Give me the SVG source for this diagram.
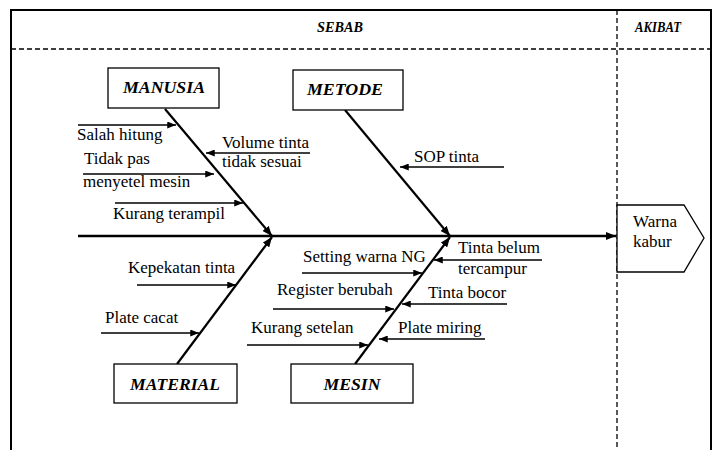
<svg xmlns="http://www.w3.org/2000/svg" width="717" height="450" viewBox="0 0 717 450">
<defs>
<marker id="ah" viewBox="0 0 10 8" refX="10" refY="4" markerWidth="10" markerHeight="8" markerUnits="userSpaceOnUse" orient="auto"><path d="M0,0 L10,4 L0,8 z" fill="#000"/></marker>
<marker id="ahs" viewBox="0 0 10 8" refX="10" refY="4" markerWidth="9" markerHeight="7" markerUnits="userSpaceOnUse" orient="auto"><path d="M0,0 L10,4 L0,8 z" fill="#000"/></marker>
<style>
.frame{fill:none;stroke:#000;stroke-width:2}
.dash{fill:none;stroke:#000;stroke-width:1.3;stroke-dasharray:5 3}
.box{fill:#fff;stroke:#000;stroke-width:1.3}
.hd{font-family:"Liberation Serif","Times New Roman",serif;font-weight:bold;font-style:italic;font-size:17.5px;fill:#000;text-anchor:middle}
.top{font-family:"Liberation Serif","Times New Roman",serif;font-weight:bold;font-style:italic;font-size:14px;fill:#000;text-anchor:middle}
.lb{font-family:"Liberation Serif","Times New Roman",serif;font-size:17px;fill:#000}
.bone{stroke:#000;stroke-width:2.2;fill:none;marker-end:url(#ah)}
.spine{stroke:#000;stroke-width:2.6;fill:none;marker-end:url(#ah)}
.sub{stroke:#000;stroke-width:1.6;fill:none;marker-end:url(#ahs)}
</style>
</defs>
<rect width="717" height="450" fill="#fff"/>
<g id="frame">
<path class="frame" d="M11,450 V10 H711 V450"/>
<line class="dash" x1="11" y1="49" x2="711" y2="49"/>
<line class="dash" x1="617" y1="10" x2="617" y2="450"/>
<text class="top" x="340" y="32" textLength="46" lengthAdjust="spacingAndGlyphs">SEBAB</text>
<text class="top" x="658" y="32" textLength="46" lengthAdjust="spacingAndGlyphs">AKIBAT</text>
</g>
<g id="connectors">
<line class="spine" x1="78" y1="236" x2="616" y2="236"/>
<line class="bone" x1="165" y1="109" x2="272" y2="236"/>
<line class="bone" x1="345" y1="110" x2="450" y2="236"/>
<line class="bone" x1="177" y1="364" x2="272" y2="237"/>
<line class="bone" x1="355" y1="364" x2="450" y2="237"/>
<line class="sub" x1="78" y1="125" x2="176" y2="125"/>
<line class="sub" x1="310" y1="153" x2="206" y2="153"/>
<line class="sub" x1="83" y1="174" x2="214" y2="174"/>
<line class="sub" x1="115" y1="203" x2="243" y2="203"/>
<line class="sub" x1="504" y1="167" x2="400" y2="167"/>
<line class="sub" x1="137" y1="285" x2="236" y2="285"/>
<line class="sub" x1="101" y1="333" x2="199" y2="333"/>
<line class="sub" x1="302" y1="273" x2="422" y2="273"/>
<line class="sub" x1="542" y1="260" x2="434" y2="260"/>
<line class="sub" x1="273" y1="309" x2="394" y2="309"/>
<line class="sub" x1="507" y1="304" x2="402" y2="304"/>
<line class="sub" x1="247" y1="345" x2="368" y2="345"/>
<line class="sub" x1="485" y1="339" x2="379" y2="339"/>
</g>
<g id="manusia">
<rect class="box" x="108" y="68" width="111" height="40"/>
<text class="hd" x="164" y="93" textLength="82" lengthAdjust="spacingAndGlyphs">MANUSIA</text>
</g>
<g id="metode">
<rect class="box" x="293" y="70" width="110" height="40"/>
<text class="hd" x="345" y="95" textLength="76" lengthAdjust="spacingAndGlyphs">METODE</text>
</g>
<g id="material">
<rect class="box" x="114" y="364" width="123" height="39"/>
<text class="hd" x="175" y="390" textLength="90" lengthAdjust="spacingAndGlyphs">MATERIAL</text>
</g>
<g id="mesin">
<rect class="box" x="291" y="364" width="122" height="39"/>
<text class="hd" x="352" y="390" textLength="57" lengthAdjust="spacingAndGlyphs">MESIN</text>
</g>
<g id="akibat-warna-kabur">
<path class="box" d="M617,205 H684 L704,238 L684,272 H617 Z"/>
<text class="lb" x="633" y="227">Warna</text>
<text class="lb" x="633" y="247">kabur</text>
</g>
<g id="labels">
<text class="lb" x="77" y="140">Salah hitung</text>
<text class="lb" x="222" y="148">Volume tinta</text>
<text class="lb" x="222" y="167">tidak sesuai</text>
<text class="lb" x="84" y="164">Tidak pas</text>
<text class="lb" x="83" y="187">menyetel mesin</text>
<text class="lb" x="113" y="219">Kurang terampil</text>
<text class="lb" x="414" y="162">SOP tinta</text>
<text class="lb" x="128" y="273">Kepekatan tinta</text>
<text class="lb" x="105" y="323">Plate cacat</text>
<text class="lb" x="303" y="262">Setting warna NG</text>
<text class="lb" x="458" y="253">Tinta belum</text>
<text class="lb" x="458" y="274">tercampur</text>
<text class="lb" x="277" y="295">Register berubah</text>
<text class="lb" x="428" y="298">Tinta bocor</text>
<text class="lb" x="251" y="333">Kurang setelan</text>
<text class="lb" x="398" y="333">Plate miring</text>
</g>
</svg>
